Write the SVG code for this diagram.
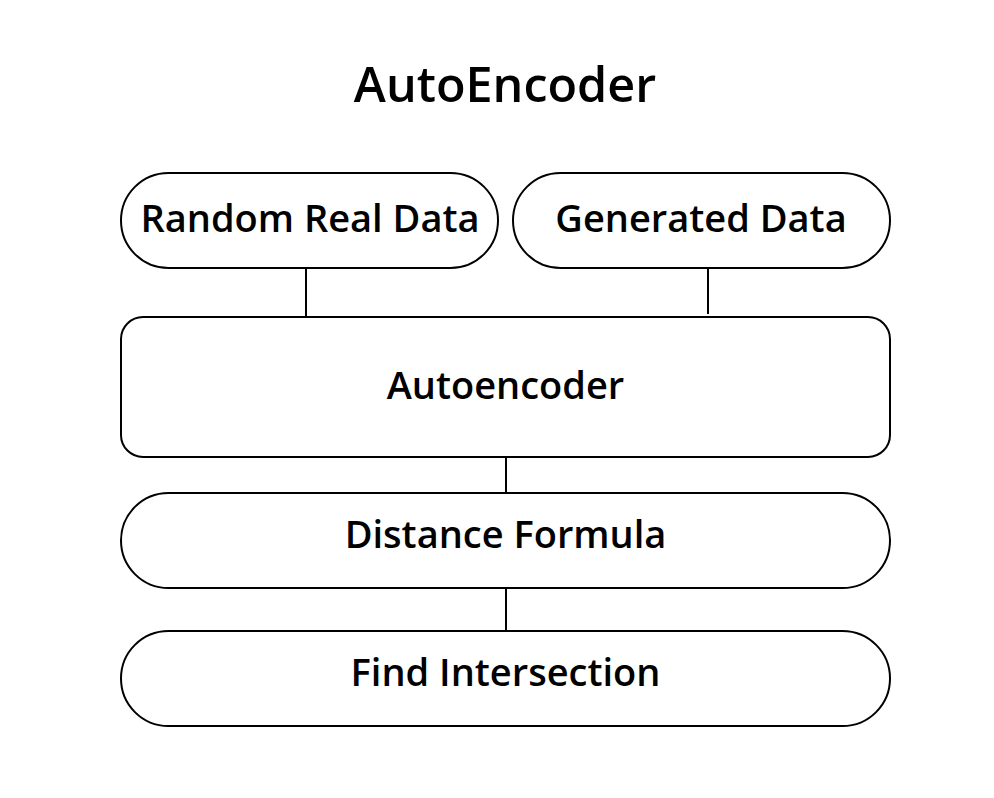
<svg xmlns="http://www.w3.org/2000/svg" width="994" height="798" viewBox="0 0 994 798">
<style>
.box{fill:#fff;stroke:#000;stroke-width:2}
.lbl{font-family:"Open Sans","Noto Sans",sans-serif;font-size:38px;fill:#000;text-anchor:middle;font-weight:600}
.conn{stroke:#000;stroke-width:2;fill:none}
</style>
<rect width="994" height="798" fill="#fff"/>
<text x="505" y="102" class="lbl" style="font-size:48.5px">AutoEncoder</text>
<g id="connectors">
<line class="conn" x1="306" y1="268" x2="306" y2="317"/>
<line class="conn" x1="708" y1="268" x2="708" y2="314"/>
<line class="conn" x1="506" y1="457" x2="506" y2="493"/>
<line class="conn" x1="506" y1="588" x2="506" y2="631"/>
</g>
<g id="random-real-data">
<rect class="box" x="121" y="173" width="377" height="95" rx="47.5"/>
<text x="310" y="232" class="lbl">Random Real Data</text>
</g>
<g id="generated-data">
<rect class="box" x="513" y="173" width="377" height="95" rx="47.5"/>
<text x="701" y="232" class="lbl">Generated Data</text>
</g>
<g id="autoencoder">
<rect class="box" x="121" y="317" width="769" height="140" rx="22"/>
<text x="505.5" y="399" class="lbl">Autoencoder</text>
</g>
<g id="distance-formula">
<rect class="box" x="121" y="493" width="769" height="95" rx="47.5"/>
<text x="505.5" y="548" class="lbl">Distance Formula</text>
</g>
<g id="find-intersection">
<rect class="box" x="121" y="631" width="769" height="95" rx="47.5"/>
<text x="505.5" y="686" class="lbl">Find Intersection</text>
</g>
</svg>
